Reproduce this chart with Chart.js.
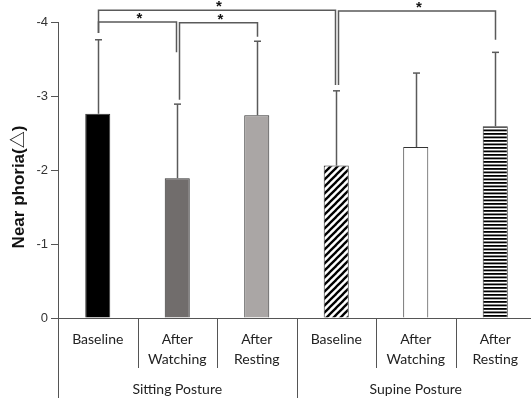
<!DOCTYPE html>
<html>
<head>
<meta charset="utf-8">
<script src="https://cdn.jsdelivr.net/npm/chart.js@4/dist/chart.umd.min.js"></script>
<style>
html,body{margin:0;padding:0;background:#fff;overflow:hidden;}
#wrap{width:531px;height:401px;overflow:hidden;}
canvas{display:block;}
</style>
</head>
<body>
<div id="wrap"><canvas id="c" width="536" height="401"></canvas></div>
<script>
// ---- data ----
const categories = [["Baseline"], ["After", "Watching"], ["After", "Resting"], ["Baseline"], ["After", "Watching"], ["After", "Resting"]];
const groups = ["Sitting Posture", "Supine Posture"];
const groupSpans = [[0, 2], [3, 5]];
const means = [-2.76, -1.89, -2.74, -2.06, -2.31, -2.59];
const errTops = [-3.76, -2.89, -3.74, -3.07, -3.31, -3.59];
const yTicks = [-4, -3, -2, -1, 0];
const yTitle = "Near phoria(△)";
// significance brackets: [from, to], level, leg ends
const sigPairs = [[0, 1], [1, 2], [0, 3], [3, 5]];
const sigLevels = [-4.0, -3.99, -4.16, -4.15];
const sigLegEnds = [[-3.85, -3.59], [-2.95, -3.80], [-3.85, -3.15], [-3.15, -3.76]];
const sigOffsets = [[0, -1], [2, 0], [0, -1], [2, 0]];
const sigLabel = "*";

// ---- patterns ----
function diagPattern() {
  const p = document.createElement('canvas');
  p.width = 7; p.height = 7;
  const g = p.getContext('2d');
  g.fillStyle = '#fff'; g.fillRect(0, 0, 7, 7);
  g.strokeStyle = '#000'; g.lineWidth = 2.3;
  for (let o = -7; o <= 7; o += 7) {
    g.beginPath(); g.moveTo(o - 1, 8); g.lineTo(o + 8, -1); g.stroke();
  }
  return g.createPattern(p, 'repeat');
}
function horizPattern() {
  const p = document.createElement('canvas');
  p.width = 4; p.height = 7;
  const g = p.getContext('2d');
  g.fillStyle = '#fff'; g.fillRect(0, 0, 4, 7);
  g.fillStyle = '#000';
  g.fillRect(0, 0, 4, 1.8);
  g.fillRect(0, 3.5, 4, 1.8);
  return g.createPattern(p, 'repeat');
}
const fills = ['#000000', '#716d6c', '#aaa6a5', diagPattern(), '#ffffff', horizPattern()];

const lineCol = '#5a5a5a';
const labelFont = '14px Lato, "Liberation Sans", sans-serif';

const overlay = {
  id: 'overlay',
  afterDatasetsDraw(chart) {
    const ctx = chart.ctx, x = chart.scales.x, y = chart.scales.y;
    const area = chart.chartArea;
    ctx.save();
    // error bars
    ctx.strokeStyle = lineCol; ctx.lineWidth = 1.5;
    means.forEach((m, i) => {
      const px = Math.round(x.getPixelForValue(i)) + 0.5;
      const y0 = y.getPixelForValue(m), y1 = y.getPixelForValue(errTops[i]);
      ctx.beginPath(); ctx.moveTo(px, y0); ctx.lineTo(px, y1); ctx.stroke();
      ctx.beginPath(); ctx.moveTo(px - 3.5, y1); ctx.lineTo(px + 3.5, y1); ctx.stroke();
    });
    // significance brackets
    sigPairs.forEach((pr, k) => {
      const xa = Math.round(x.getPixelForValue(pr[0])) + 0.5 + sigOffsets[k][0];
      const xb = Math.round(x.getPixelForValue(pr[1])) + 0.5 + sigOffsets[k][1];
      const yl = y.getPixelForValue(sigLevels[k]);
      ctx.strokeStyle = lineCol; ctx.lineWidth = 1.5;
      ctx.beginPath();
      ctx.moveTo(xa, y.getPixelForValue(sigLegEnds[k][0]));
      ctx.lineTo(xa, yl); ctx.lineTo(xb, yl);
      ctx.lineTo(xb, y.getPixelForValue(sigLegEnds[k][1]));
      ctx.stroke();
      ctx.fillStyle = '#111';
      ctx.font = 'bold 15px "Liberation Sans", Arial, sans-serif';
      ctx.textAlign = 'center'; ctx.textBaseline = 'middle';
      ctx.fillText(sigLabel, (xa + xb) / 2 + 2, yl - 3);
    });
    // x-axis category labels and dividers
    const step = x.getPixelForValue(1) - x.getPixelForValue(0);
    ctx.fillStyle = '#222'; ctx.font = labelFont;
    ctx.textAlign = 'center'; ctx.textBaseline = 'middle';
    categories.forEach((lab, i) => {
      const px = x.getPixelForValue(i);
      lab.forEach((ln, j) => ctx.fillText(ln, px, area.bottom + 21 + j * 20));
    });
    ctx.strokeStyle = '#555'; ctx.lineWidth = 1;
    for (let k = 0; k <= categories.length; k++) {
      const bx = Math.round(x.getPixelForValue(k) - step / 2) + 0.5;
      const long = groupSpans.some(s => s[0] === k || s[1] + 1 === k);
      ctx.beginPath(); ctx.moveTo(bx, area.bottom);
      ctx.lineTo(bx, area.bottom + (long ? 80 : 50)); ctx.stroke();
    }
    groups.forEach((g, i) => {
      const cx = (x.getPixelForValue(groupSpans[i][0]) + x.getPixelForValue(groupSpans[i][1])) / 2;
      ctx.fillText(g, cx, area.bottom + 71);
    });
    // y title
    ctx.save();
    ctx.translate(19, 187);
    ctx.rotate(-Math.PI / 2);
    ctx.font = 'bold 17px "Liberation Sans", "Noto Sans CJK SC", sans-serif';
    ctx.fillStyle = '#111';
    ctx.fillText(yTitle, 0, 0);
    ctx.restore();
    ctx.restore();
  }
};

new Chart(document.getElementById('c'), {
  type: 'bar',
  data: {
    labels: categories.map(c => c.join(' ')),
    datasets: [{
      data: means,
      backgroundColor: fills,
      borderColor: '#333',
      borderWidth: 1,
      borderSkipped: 'start',
      barPercentage: 0.315,
      categoryPercentage: 1
    }]
  },
  options: {
    responsive: false,
    animation: false,
    devicePixelRatio: 1,
    layout: { padding: { top: 22, right: 1, left: 0, bottom: 0 } },
    plugins: { legend: { display: false }, tooltip: { enabled: false } },
    scales: {
      x: {
        ticks: { display: false },
        grid: { display: false },
        border: { display: true, color: '#555', width: 1 },
        afterFit: s => { s.height = 83; }
      },
      y: {
        min: -4, max: 0, reverse: true,
        afterBuildTicks: s => { s.ticks = yTicks.map(v => ({ value: v })); },
        ticks: {
          color: '#333', padding: 3,
          font: { size: 13, family: '"Liberation Sans", Arial, sans-serif' },
          callback: v => String(v)
        },
        grid: { drawOnChartArea: false, drawTicks: true, tickLength: 7, color: '#555' },
        border: { display: true, color: '#555', width: 1 },
        afterFit: s => { s.width = 58; }
      }
    }
  },
  plugins: [overlay]
});
</script>
</body>
</html>
